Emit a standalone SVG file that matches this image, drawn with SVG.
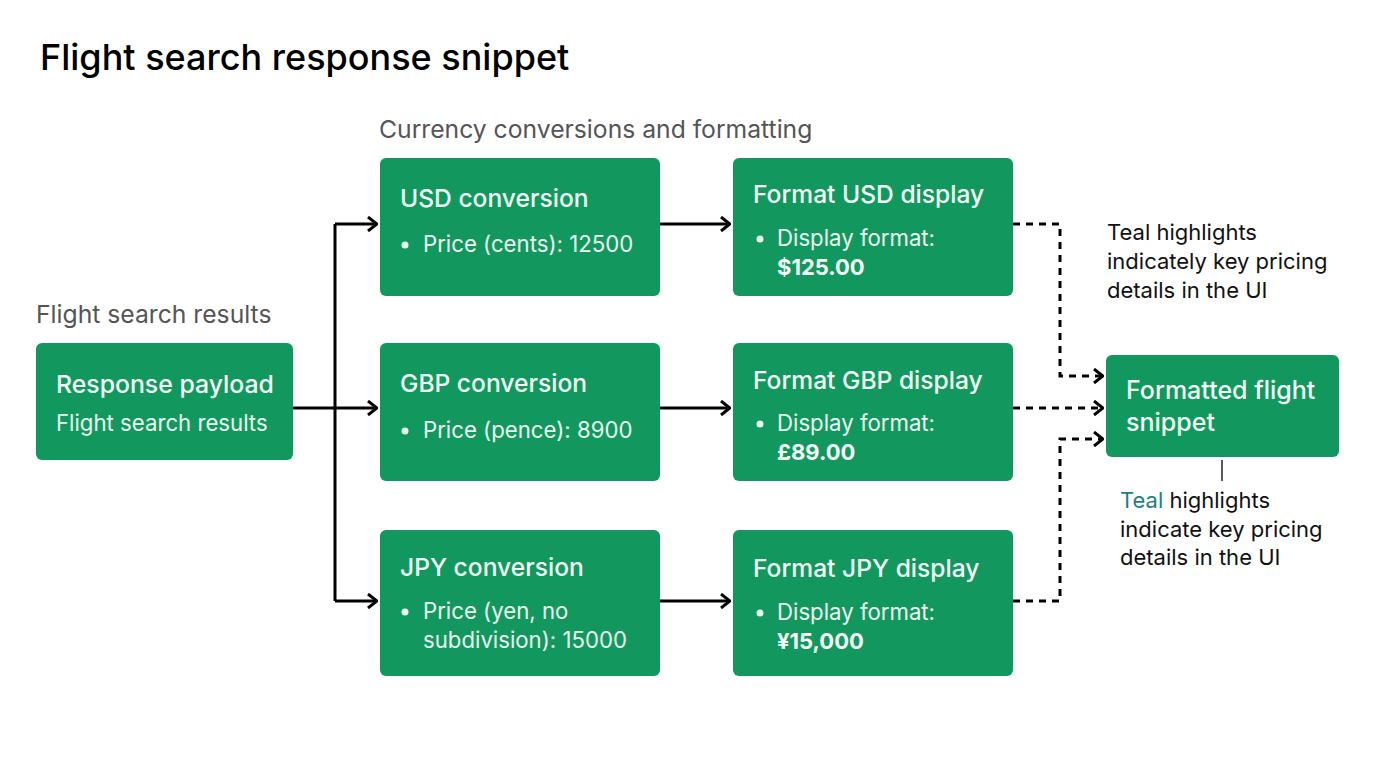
<svg xmlns="http://www.w3.org/2000/svg" width="1376" height="768" viewBox="0 0 1376 768">
<defs>
<style>
.box{fill:#12985e;}
.t{font-family:Inter,"Noto Sans","Liberation Sans",sans-serif;}
.h{font-size:24.6px;font-weight:500;fill:#f2fff6;}
.b{font-size:22.2px;fill:#eafaf0;}
.bb{font-size:22px;font-weight:700;fill:#f5fff8;}
.lbl{font-size:24.7px;fill:#555555;}
.note{font-size:22px;fill:#111111;}
.solid{fill:none;stroke:#000;stroke-width:3;}
.dash{fill:none;stroke:#000;stroke-width:3;stroke-dasharray:7 6;}
</style>
<marker id="arr" viewBox="0 0 12 16" refX="11" refY="8" markerWidth="12" markerHeight="16" markerUnits="userSpaceOnUse" orient="auto">
<path d="M2,1 L11,8 L2,15" fill="none" stroke="#000" stroke-width="3"/>
</marker>
</defs>
<rect width="1376" height="768" fill="#ffffff"/>
<text class="t" x="40" y="70" font-size="36" font-weight="500" fill="#000">Flight search response snippet</text>
<text class="t lbl" x="379" y="138">Currency conversions and formatting</text>
<text class="t lbl" x="36" y="323">Flight search results</text>

<g id="connectors">
<polyline class="solid" points="293,408 335,408"/>
<polyline class="solid" points="335,224 335,601"/>
<polyline class="solid" marker-end="url(#arr)" points="335,224 377,224"/>
<polyline class="solid" marker-end="url(#arr)" points="335,408 377,408"/>
<polyline class="solid" marker-end="url(#arr)" points="335,601 377,601"/>
<polyline class="solid" marker-end="url(#arr)" points="660,224 730,224"/>
<polyline class="solid" marker-end="url(#arr)" points="660,408 730,408"/>
<polyline class="solid" marker-end="url(#arr)" points="660,601 730,601"/>
<polyline class="dash" marker-end="url(#arr)" points="1013,224 1060,224 1060,376 1103,376"/>
<polyline class="dash" marker-end="url(#arr)" points="1013,408 1103,408"/>
<polyline class="dash" marker-end="url(#arr)" points="1013,601 1060,601 1060,439 1103,439"/>
<line x1="1222" y1="460" x2="1222" y2="481" stroke="#222" stroke-width="1.5"/>
</g>

<g id="response-payload">
<rect class="box" x="36" y="343" width="257" height="117" rx="6"/>
<text class="t" x="56" y="393" font-size="24.8" font-weight="500" fill="#f2fff6">Response payload</text>
<text class="t b" x="56" y="431">Flight search results</text>
</g>

<g id="usd-conversion">
<rect class="box" x="380" y="158" width="280" height="138" rx="6"/>
<text class="t h" x="400" y="207">USD conversion</text>
<circle cx="405" cy="245" r="3.5" fill="#eafaf0"/>
<text class="t b" x="423" y="252">Price (cents): 12500</text>
</g>

<g id="gbp-conversion">
<rect class="box" x="380" y="343" width="280" height="138" rx="6"/>
<text class="t h" x="400" y="392">GBP conversion</text>
<circle cx="405" cy="431" r="3.5" fill="#eafaf0"/>
<text class="t b" x="423" y="438">Price (pence): 8900</text>
</g>

<g id="jpy-conversion">
<rect class="box" x="380" y="530" width="280" height="146" rx="6"/>
<text class="t h" x="400" y="576">JPY conversion</text>
<circle cx="405" cy="612" r="3.5" fill="#eafaf0"/>
<text class="t b" x="423" y="619">Price (yen, no</text>
<text class="t b" x="423" y="648">subdivision): 15000</text>
</g>

<g id="format-usd">
<rect class="box" x="733" y="158" width="280" height="138" rx="6"/>
<text class="t h" x="753" y="203">Format USD display</text>
<circle cx="760" cy="239" r="3.5" fill="#eafaf0"/>
<text class="t b" x="777" y="246">Display format:</text>
<text class="t bb" x="777" y="275">$125.00</text>
</g>

<g id="format-gbp">
<rect class="box" x="733" y="343" width="280" height="138" rx="6"/>
<text class="t h" x="753" y="389">Format GBP display</text>
<circle cx="760" cy="424" r="3.5" fill="#eafaf0"/>
<text class="t b" x="777" y="431">Display format:</text>
<text class="t bb" x="777" y="460">£89.00</text>
</g>

<g id="format-jpy">
<rect class="box" x="733" y="530" width="280" height="146" rx="6"/>
<text class="t h" x="753" y="577">Format JPY display</text>
<circle cx="760" cy="613" r="3.5" fill="#eafaf0"/>
<text class="t b" x="777" y="620">Display format:</text>
<text class="t bb" x="777" y="649">¥15,000</text>
</g>

<g id="formatted-snippet">
<rect class="box" x="1106" y="355" width="233" height="102" rx="6"/>
<text class="t" x="1126" y="399" font-size="25" font-weight="500" fill="#f2fff6">Formatted flight</text>
<text class="t" x="1126" y="431" font-size="25" font-weight="500" fill="#f2fff6">snippet</text>
</g>

<g id="note-top">
<text class="t note" x="1107" y="240">Teal highlights</text>
<text class="t note" x="1107" y="269">indicately key pricing</text>
<text class="t note" x="1107" y="298">details in the UI</text>
</g>

<g id="note-bottom">
<text class="t note" x="1120" y="508"><tspan fill="#1f7f80">Teal</tspan> highlights</text>
<text class="t note" x="1120" y="537">indicate key pricing</text>
<text class="t note" x="1120" y="565">details in the UI</text>
</g>
</svg>
